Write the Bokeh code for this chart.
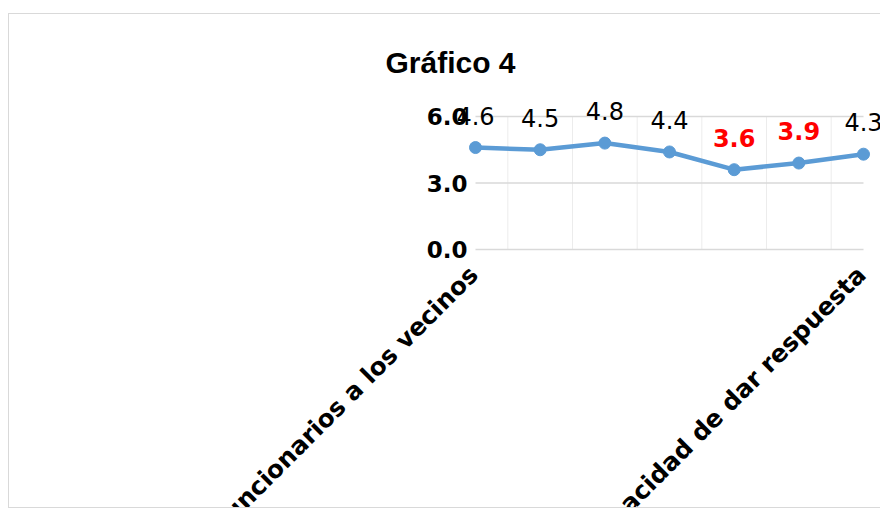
import math
from bokeh.plotting import figure
from bokeh.models import ColumnDataSource, FixedTicker, NumeralTickFormatter
from bokeh.core.properties import value
from bokeh.embed import file_html
from bokeh.resources import INLINE

# ---- data ----
title_text = "Gráfico 4"
categories = ["Trato de los funcionarios a los vecinos", "", "", "", "", "",
              "Capacidad de dar respuesta"]
values = [4.6, 4.5, 4.8, 4.4, 3.6, 3.9, 4.3]
label_texts = ["4.6", "4.5", "4.8", "4.4", "3.6", "3.9", "4.3"]
label_colors = ["black", "black", "black", "black", "red", "red", "black"]
label_styles = ["normal", "normal", "normal", "normal", "bold", "bold", "normal"]
y_ticks = [0, 3, 6]

n = len(values)
idx = list(range(n))
src = ColumnDataSource(dict(x=idx, y=values, lab=label_texts, col=label_colors,
                            sty=label_styles))
cat_src = ColumnDataSource(dict(x=[i for i in idx if categories[i]],
                                y=[0 for i in idx if categories[i]],
                                t=[c for c in categories if c]))
ymax = max(y_ticks)
hgrid = ColumnDataSource(dict(x0=[0] * len(y_ticks), x1=[n - 1] * len(y_ticks),
                              y=y_ticks))
vgrid = ColumnDataSource(dict(x=[i + 0.5 for i in idx[:-1]],
                              y0=[0] * (n - 1), y1=[ymax] * (n - 1)))

# pixel scale: x 0..6 -> 475..863 ; y 0..6 -> 249..116 (page px)
px_x = (863 - 475) / (n - 1)
px_y = (249 - 116) / ymax
frame_l, frame_r, frame_t, frame_b = 89, 881, 98, 509
x_rng = ((frame_l - 475) / px_x, (frame_r - 475) / px_x)
y_rng = (-(frame_b - 249) / px_y, (249 - frame_t) / px_y)

p = figure(width=872, height=495, output_backend="svg", toolbar_location=None,
           x_range=x_rng, y_range=y_rng,
           min_border_left=80, min_border_right=0, min_border_top=84,
           min_border_bottom=0, margin=(13, 0, 0, 8))
p.styles = {"border-left": "1px solid #d9d9d9", "border-top": "1px solid #d9d9d9",
            "border-bottom": "1px solid #d9d9d9"}
p.outline_line_color = None
p.background_fill_color = "white"
p.border_fill_color = "white"

p.title.text = title_text
p.title.text_font = "Liberation Sans"
p.title.text_font_size = "30px"
p.title.text_font_style = "bold"
p.title.text_color = "black"
p.title.align = "left"
p.title.offset = 385 - frame_l
p.title.standoff = 40

p.xaxis.visible = False
p.grid.visible = False
p.yaxis.fixed_location = 0
p.yaxis.ticker = FixedTicker(ticks=y_ticks)
p.yaxis.formatter = NumeralTickFormatter(format="0.0")
p.yaxis.axis_line_color = None
p.yaxis.major_tick_line_color = None
p.yaxis.minor_tick_line_color = None
p.yaxis.major_tick_out = 0
p.yaxis.major_tick_in = 0
p.yaxis.major_label_text_font = "DejaVu Sans"
p.yaxis.major_label_text_font_style = "bold"
p.yaxis.major_label_text_font_size = "23px"
p.yaxis.major_label_text_color = "black"
p.yaxis.major_label_standoff = 8

p.segment(x0="x", x1="x", y0="y0", y1="y1", source=vgrid,
          line_color="#ececec", line_width=1)
p.segment(x0="x0", x1="x1", y0="y", y1="y", source=hgrid,
          line_color="#d9d9d9", line_width=1.3)

p.line("x", "y", source=src, line_color="#5b9bd5", line_width=4.5)
p.scatter("x", "y", source=src, size=12, fill_color="#5b9bd5", line_color="#5b9bd5")

p.text(x="x", y="y", text="lab", source=src, text_align="center",
       text_baseline="alphabetic", y_offset=-32,
       text_color="col", text_font_style="sty",
       text_font=value("DejaVu Sans"), text_font_size="24px")

p.text(x="x", y="y", text="t", source=cat_src, text_align="right",
       text_baseline="middle", x_offset=-2, y_offset=21, angle=math.pi / 4,
       text_font=value("DejaVu Sans"), text_font_style="bold",
       text_font_size="24.6px", text_color="black")

open("out.html", "w").write(file_html(p, INLINE))
